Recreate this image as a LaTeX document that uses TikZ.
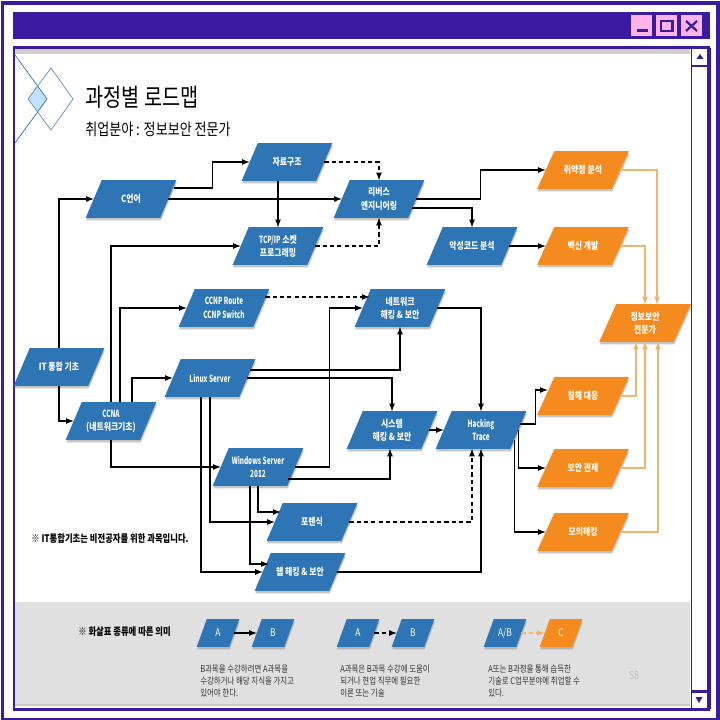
\documentclass[tikz,border=0pt]{standalone}
\usepackage{fontspec}
\setmainfont[FakeStretch=0.8]{Noto Sans CJK KR}
\newfontfamily\titlefont[FakeStretch=0.8]{Noto Sans CJK KR}
\newfontfamily\boxlatin[FakeStretch=0.65]{Noto Sans CJK KR}
\usetikzlibrary{calc,backgrounds}

\definecolor{windowpurple}{HTML}{3A1A9E}
\definecolor{buttonpink}{HTML}{FFB3E6}
\definecolor{courseblue}{HTML}{2E75B6}
\definecolor{courseorange}{HTML}{F58A1F}
\definecolor{jobline}{HTML}{EDB56F}
\definecolor{legendgray}{HTML}{E0E0E0}
\definecolor{logofill}{HTML}{BFE3FF}
\definecolor{logoline}{HTML}{3F7396}

\tikzset{
  coursetext/.style={inner sep=0pt,minimum width=1.85cm,minimum height=0.925cm,text=white,align=center,font=\fontsize{7}{9.5}\selectfont\bfseries},
  legendtext/.style={coursetext,minimum width=0.8cm,minimum height=0.675cm,font=\fontsize{7.5}{9}\selectfont},
  flow/.style={-latex,line width=0.85pt,black},
  hint/.style={flow,dashed,dash pattern=on 3pt off 2.2pt},
  jobflow/.style={-latex,line width=0.85pt,jobline},
  jobhint/.style={jobflow,dashed,dash pattern=on 3pt off 2.2pt},
  note/.style={anchor=west,inner sep=0pt,align=left,text=black!80,font=\fontsize{6.6}{8.6}\selectfont}
}

% style, fill, half slant, name, position, text
\newcommand{\course}[6]{
  \node[#1] (#4) at (#5) {#6};
  \begin{scope}[on background layer]
    \fill[black!45,opacity=.5] ($(#4.south west)+(-#3+.5,2.5)$) -- ($(#4.north west)+(#3+.5,2.5)$) -- ($(#4.north east)+(#3+.5,2.5)$) -- ($(#4.south east)+(-#3+.5,2.5)$) -- cycle;
    \fill[#2] ($(#4.south west)+(-#3,0)$) -- ($(#4.north west)+(#3,0)$) -- ($(#4.north east)+(#3,0)$) -- ($(#4.south east)+(-#3,0)$) -- cycle;
  \end{scope}
}
\newcommand{\latin}[1]{{\boxlatin\bfseries #1}}

\begin{document}
\begin{tikzpicture}[x=0.025cm,y=-0.025cm]
\useasboundingbox (0,0) rectangle (720,720);

%window
\begin{scope}[on background layer]
\fill[white] (0,0) rectangle (720,720);
\draw[windowpurple,line width=2.8pt] (2.5,3) rectangle (718,719.5);
\fill[windowpurple] (13,12) rectangle (710,39);
\fill[black!18] (15,49) rectangle (690,54);
\fill[legendgray] (15,602) rectangle (690,704);
\fill[black!22] (15,704) rectangle (690,706);
\draw[windowpurple,line width=1.5pt] (14,47.5) rectangle (709,709.5);
\draw[windowpurple,line width=0.6pt] (691,48) -- (691,709);
\draw[windowpurple,line width=2.2pt] (709,48) -- (709,709);
\draw[windowpurple,line width=1.5pt] (691,66) -- (708,66);
\draw[windowpurple,line width=1.5pt] (691,691.5) -- (708,691.5);
\fill[windowpurple] (700,54) -- (703.5,59) -- (696.5,59) -- cycle;
\fill[windowpurple] (699,703) -- (695.5,697) -- (702.5,697) -- cycle;

%buttons
\fill[buttonpink] (631,15) rectangle (652,36);
\fill[buttonpink] (656,15) rectangle (677,36);
\fill[buttonpink] (681,15) rectangle (702,36);
\fill[windowpurple] (637,29) rectangle (648,32);
\draw[windowpurple,line width=1.6pt] (661,21) rectangle (672.5,31);
\draw[windowpurple,line width=1.6pt] (686,21) -- (697,31);
\draw[windowpurple,line width=1.6pt] (697,21) -- (686,31);

%logo
\fill[logofill] (28,99) -- (37.5,85.5) -- (47,99) -- (37.5,112.5) -- cycle;
\draw[logoline,line width=0.5pt] (15,55) -- (47,99) -- (15,143);
\draw[logoline!80,line width=0.5pt] (51,68) -- (73,99) -- (51,130) -- (28,99) -- cycle;
\end{scope}

%title
\node[anchor=west,inner sep=0pt,font=\fontsize{17.5}{20}\titlefont] (title) at (85,97) {과정별 로드맵};
\node[anchor=west,inner sep=0pt,font=\fontsize{11.6}{13}\titlefont] (subtitle) at (85,129) {취업분야 : 정보보안 전문가};

%courses
\course{coursetext}{courseblue}{8}{itbase}{59,367}{IT 통합 기초}
\course{coursetext}{courseblue}{8}{clang}{131,199}{C언어}
\course{coursetext}{courseblue}{8}{dstruct}{287,162}{자료구조}
\course{coursetext}{courseblue}{8}{reverse}{379,199}{리버스\\엔지니어링}
\course{coursetext}{courseblue}{8}{socket}{278,246}{\latin{TCP/IP} 소켓\\프로그래밍}
\course{coursetext}{courseblue}{8}{malware}{472,246}{악성코드 분석}
\course{coursetext}{courseblue}{8}{ccnp}{224,308}{\latin{CCNP Route}\\\latin{CCNP Switch}}
\course{coursetext}{courseblue}{8}{nethack}{400,308}{네트워크\\해킹 \& 보안}
\course{coursetext}{courseblue}{8}{linux}{210,378}{\latin{Linux Server}}
\course{coursetext}{courseblue}{8}{ccna}{111,421}{\latin{CCNA}\\(네트워크기초)}
\course{coursetext}{courseblue}{8}{windows}{258,467}{\latin{Windows Server}\\\latin{2012}}
\course{coursetext}{courseblue}{8}{syshack}{392,430}{시스템\\해킹 \& 보안}
\course{coursetext}{courseblue}{8}{trace}{481,430}{\latin{Hacking}\\\latin{Trace}}
\course{coursetext}{courseblue}{8}{forensic}{312,522}{포렌식}
\course{coursetext}{courseblue}{8}{webhack}{300,572}{웹 해킹 \& 보안}

%jobs
\course{coursetext}{courseorange}{8.5}{vuln}{583,170}{취약점 분석}
\course{coursetext}{courseorange}{8.5}{vaccine}{583,246}{백신 개발}
\course{coursetext}{courseorange}{8.5}{expert}{645,323}{정보보안\\전문가}
\course{coursetext}{courseorange}{8.5}{incident}{583,396}{침해 대응}
\course{coursetext}{courseorange}{8.5}{monitor}{583,468}{보안 관제}
\course{coursetext}{courseorange}{8.5}{pentest}{583,532}{모의해킹}

%solid arrows
\draw[flow] (itbase.north) |- (clang.west);
\draw[flow] (itbase.south) |- (ccna.west);
\draw[flow] ($(clang.east)+(6,-11)$) -- ++(38,0) |- (dstruct.west);
\draw[flow] (clang.east) -- (reverse.west);
\draw[flow] (socket.north |- dstruct.south) -- (socket.north);
\draw[flow] (reverse.east) -- ++(64,0) |- (vuln.west);
\draw[flow] ($(reverse.east)+(-4,9)$) -| (malware.north);
\draw[flow] (malware.east) -- (vaccine.west);
\draw[flow] (ccna.north) |- (socket.west);
\draw[flow] ($(ccna.north)+(9,0)$) |- (ccnp.west);
\draw[flow] ($(ccna.north)+(21,0)$) |- (linux.west);
\draw[flow] (ccna.south) |- (windows.west);
\draw[flow] (windows.east) -- ++(34,0) |- (nethack.west);
\draw[flow] (nethack.east) -| (trace.north);
\draw[flow] ($(linux.east)+(3,-8)$) -| (nethack.south);
\draw[flow] (linux.east) -| (syshack.north);
\draw[flow] ($(windows.east)+(-7,12)$) -| ($(syshack.south)+(-2,0)$);
\draw[flow] (windows.south) |- ($(forensic.west)+(6,-10)$);
\draw[flow] ($(windows.south)+(-8,0)$) |- ($(webhack.west)+(6,-8)$);
\draw[flow] (linux.south) |- (forensic.west);
\draw[flow] ($(linux.south)+(-9,0)$) |- (webhack.west);
\draw[flow] (webhack.east) -| (trace.south);
\draw[flow] (syshack.east) -- (trace.west);
\draw[flow] ($(trace.east)+(2,-6)$) -- ++(15,0) |- ($(incident.west)+(2,-6)$);
\draw[flow] (trace.east) |- (monitor.west);
\draw[flow] ($(trace.east)+(-4,10)$) |- (pentest.west);

%dashed arrows
\draw[hint] (dstruct.east) -| (reverse.north);
\draw[hint] (socket.east) -| (reverse.south);
\draw[hint] ($(ccnp.east)+(4,-11)$) -- ($(nethack.west)+(7,-11)$);
\draw[hint] (forensic.east) -| ($(trace.south)+(-9,0)$);

%orange arrows
\draw[jobflow] (vuln.east) -| ($(expert.north)+(12,0)$);
\draw[jobflow] (vaccine.east) -| (expert.north);
\draw[jobflow] (incident.east) -| ($(expert.south)+(-9,0)$);
\draw[jobflow] (monitor.east) -| (expert.south);
\draw[jobflow] (pentest.east) -| ($(expert.south)+(13,0)$);

%notes
\node[anchor=west,inner sep=0pt,font=\fontsize{7.4}{8}\selectfont\bfseries] (basenote) at (31,539) {※ IT통합기초는 비전공자를 위한 과목입니다.};
\node[anchor=west,inner sep=0pt,font=\fontsize{7.4}{8}\selectfont\bfseries] (legendnote) at (78,632) {※ 화살표 종류에 따른 의미};

%legend
\course{legendtext}{courseblue}{5}{solida}{218,633}{A}
\course{legendtext}{courseblue}{5}{solidb}{273,633}{B}
\course{legendtext}{courseblue}{5}{dasha}{358,633}{A}
\course{legendtext}{courseblue}{5}{dashb}{413,633}{B}
\course{legendtext}{courseblue}{5}{joba}{505,633}{A/B}
\course{legendtext}{courseorange}{5}{jobc}{561,633}{C}
\draw[flow] (solida.east) -- (solidb.west);
\draw[hint] (dasha.east) -- (dashb.west);
\draw[jobhint] (joba.east) -- (jobc.west);

\node[note] (solidnote) at (200,681) {B과목을 수강하려면 A과목을\\수강하거나 해당 지식을 가지고\\있어야 한다.};
\node[note] (dashnote) at (340,681) {A과목은 B과목 수강에 도움이\\되거나 현업 직무에 필요한\\이론 또는 기술};
\node[note] (jobnote) at (488,681) {A또는 B과정을 통해 습득한\\기술로 C업무분야에 취업할 수\\있다.};
\node[inner sep=0pt,text=black!25,font=\fontsize{8}{10}\selectfont] (pagenum) at (634,675) {S8};

\end{tikzpicture}
\end{document}
